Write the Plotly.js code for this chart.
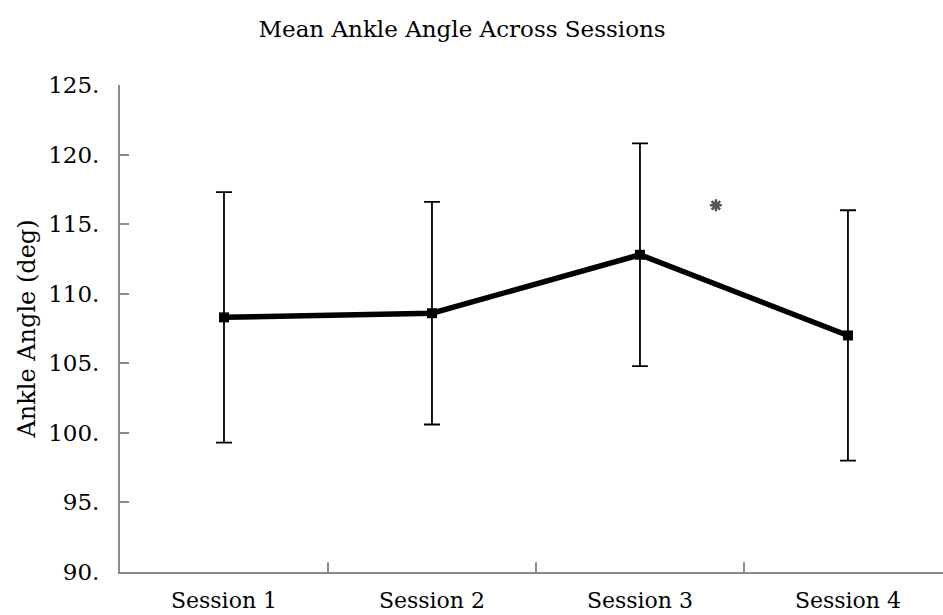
<!DOCTYPE html>
<html>
<head>
<meta charset="utf-8">
<script src="https://cdn.plot.ly/plotly-3.0.1.min.js"></script>
<style>html,body{margin:0;padding:0;background:#fff;}#chart{width:943px;height:615px;}</style>
</head>
<body>
<div id="chart"></div>
<script>
const sessions = ["Session 1", "Session 2", "Session 3", "Session 4"];
const meanAngle = [108.3, 108.6, 112.8, 107.0];
const errorAngle = [9.0, 8.0, 8.0, 9.0];
const tickValues = [90, 95, 100, 105, 110, 115, 120, 125];
const tickLabels = ["90.", "95.", "100.", "105.", "110.", "115.", "120.", "125."];
const markX = [2.365];
const markY = [116.35];

const font = "DejaVu Serif, Liberation Serif, serif";

const traces = [
  {
    x: [0, 1, 2, 3],
    y: meanAngle,
    type: "scatter",
    mode: "lines+markers",
    line: {color: "#000", width: 5.5},
    marker: {symbol: "square", size: 10, color: "#000"},
    error_y: {type: "data", array: errorAngle, visible: true, color: "#000", thickness: 1.8, width: 8},
    hoverinfo: "skip",
    showlegend: false
  },
  {
    x: markX,
    y: markY,
    type: "scatter",
    mode: "markers",
    marker: {symbol: "asterisk-open", size: 10, color: "#555", line: {color: "#555", width: 2.5}},
    showlegend: false
  }
];

const layout = {
  width: 943,
  height: 615,
  margin: {l: 120, r: 0, t: 85, b: 43},
  paper_bgcolor: "#fff",
  plot_bgcolor: "#fff",
  font: {family: font, color: "#000", size: 20},
  title: {text: "Mean Ankle Angle Across Sessions", x: 0.49, xanchor: "center", y: 0.953, yanchor: "middle", font: {family: font, size: 23, color: "#000"}},
  xaxis: {
    range: [-0.5, 3.457],
    tickvals: [0, 1, 2, 3],
    ticktext: sessions,
    tickmode: "array",
    showgrid: false,
    zeroline: false,
    showline: true,
    linecolor: "#8c8c8c",
    linewidth: 2,
    ticks: "",
    ticklabelstandoff: 8,
    tickfont: {family: font, size: 22, color: "#000"},
    automargin: false,
    fixedrange: true
  },
  yaxis: {
    range: [90, 125],
    tickmode: "array",
    tickvals: tickValues,
    ticktext: tickLabels,
    showgrid: false,
    zeroline: false,
    showline: true,
    linecolor: "#8c8c8c",
    linewidth: 2,
    ticks: "inside",
    ticklen: 9,
    tickwidth: 2,
    tickcolor: "#8c8c8c",
    ticklabelstandoff: 14,
    tickfont: {family: font, size: 23, color: "#000"},
    title: {text: "Ankle Angle (deg)", standoff: 6, font: {family: font, size: 24, color: "#000"}},
    automargin: false,
    fixedrange: true
  },
  shapes: [1, 2, 3].map(i => ({
    type: "line", xref: "x", yref: "paper",
    x0: i - 0.5, x1: i - 0.5, y0: 0, y1: 0.02,
    line: {color: "#8c8c8c", width: 2}
  }))
};

Plotly.newPlot("chart", traces, layout, {staticPlot: true, displayModeBar: false});
</script>
</body>
</html>
